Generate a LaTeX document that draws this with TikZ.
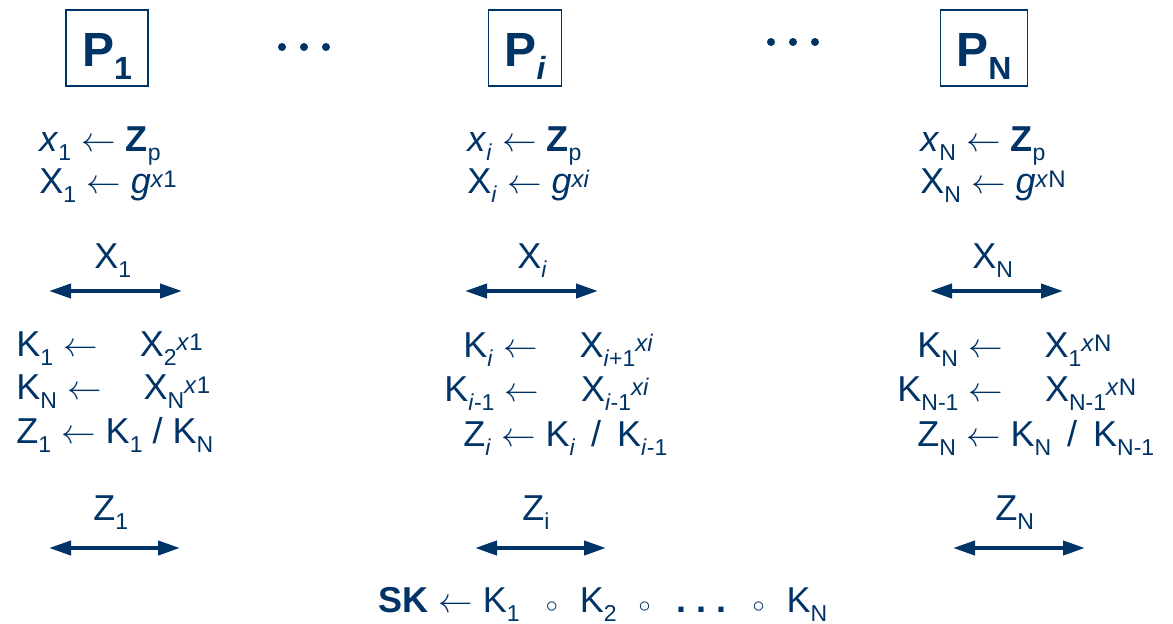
\documentclass[tikz,border=0pt]{standalone}
\usepackage{fontspec}
\setmainfont{Liberation Sans}
\usepackage{xcolor}
\usetikzlibrary{arrows.meta}
\definecolor{navy}{RGB}{0,51,102}
\newcommand{\lo}[1]{\raisebox{-4.5pt}{\fontsize{11.5}{12}\selectfont #1}}
\newcommand{\hi}[1]{\raisebox{3pt}{\fontsize{12}{12}\selectfont #1}}
\newcommand{\pidx}[1]{\raisebox{-6.5pt}{\fontsize{16}{18}\selectfont #1}}
\newcommand{\ring}{{\fontsize{12}{12}\selectfont$\circ$}}
\tikzset{
    party/.style={
        draw=navy, line width=0.8pt, anchor=base,
        text height=28pt, text depth=10pt, inner ysep=0pt, inner xsep=8pt,
        text=navy, font=\fontsize{24}{28}\selectfont\bfseries
    },
    eqn/.style={
        anchor=base west, inner sep=0pt,
        text=navy, font=\fontsize{18}{22}\selectfont
    },
    bcast/.style={
        {Triangle[length=11pt,width=7pt]}-{Triangle[length=11pt,width=7pt]},
        line width=2pt, draw=navy
    }
}
\begin{document}
\begin{tikzpicture}[x=0.5pt, y=-0.5pt]
\useasboundingbox (0,0) rectangle (1173,623);

%% Row 0 -- the parties
\node[party] (p1) at (107, 66) {P\pidx{1}};
\node[party] (pi) at (525, 66) {P\pidx{\itshape i}};
\node[party] (pn) at (984, 66) {P\pidx{N}};
\foreach \x in {282,304,326} \fill[navy] (\x,47) circle (4);
\foreach \x in {771,793,815} \fill[navy] (\x,42) circle (4);

%% Row 1 -- secret exponent and public value
\node[eqn] (a1) at (39,  151) {\textit{x}\lo{1} $\leftarrow$ \textbf{Z}\lo{p}};
\node[eqn] (b1) at (39,  193) {X\lo{1} $\leftarrow$ \textit{g}\hi{\textit{x}1}};
\node[eqn] (ai) at (467, 151) {\textit{x}\lo{\textit{i}} $\leftarrow$ \textbf{Z}\lo{p}};
\node[eqn] (bi) at (467, 193) {X\lo{\textit{i}} $\leftarrow$ \textit{g}\hi{\textit{xi}}};
\node[eqn] (an) at (920, 151) {\textit{x}\lo{N} $\leftarrow$ \textbf{Z}\lo{p}};
\node[eqn] (bn) at (920, 193) {X\lo{N} $\leftarrow$ \textit{g}\hi{\textit{x}N}};

%% Row 2 -- broadcast of X
\node[eqn] (mx1) at (94,  268) {X\lo{1}};
\node[eqn] (mxi) at (517, 268) {X\lo{\textit{i}}};
\node[eqn] (mxn) at (972, 268) {X\lo{N}};
\coordinate (x1l) at (49,  291);  \coordinate (x1r) at (182,  291);
\coordinate (xil) at (465, 291);  \coordinate (xir) at (598,  291);
\coordinate (xnl) at (930, 291);  \coordinate (xnr) at (1063, 291);
\draw[bcast] (x1l) -- (x1r);
\draw[bcast] (xil) -- (xir);
\draw[bcast] (xnl) -- (xnr);

%% Row 3 -- keys with both neighbours
\node[eqn] (k1)  at (16,  356) {K\lo{1} $\leftarrow$\hspace{21pt}X\lo{2}\hi{\textit{x}1}};
\node[eqn] (k1b) at (16,  399) {K\lo{N} $\leftarrow$\hspace{21pt}X\lo{N}\hi{\textit{x}1}};
\node[eqn] (z1)  at (16,  443) {Z\lo{1} $\leftarrow$ K\lo{1} / K\lo{N}};

\node[eqn] (ki)  at (463, 357) {K\lo{\textit{i}} $\leftarrow$\hspace{21pt}X\lo{\textit{i}+1}\hi{\textit{xi}}};
\node[eqn] (kib) at (444, 401) {K\lo{\textit{i}-1} $\leftarrow$\hspace{21pt}X\lo{\textit{i}-1}\hi{\textit{xi}}};
\node[eqn] (zi)  at (463, 446) {Z\lo{\textit{i}} $\leftarrow$ K\lo{\textit{i}}\hspace{8pt}/\hspace{8pt}K\lo{\textit{i}-1}};

\node[eqn] (kn)  at (917, 357) {K\lo{N} $\leftarrow$\hspace{21pt}X\lo{1}\hi{\textit{x}N}};
\node[eqn] (knb) at (897, 401) {K\lo{N-1} $\leftarrow$\hspace{21pt}X\lo{N-1}\hi{\textit{x}N}};
\node[eqn] (zn)  at (917, 446) {Z\lo{N} $\leftarrow$ K\lo{N}\hspace{8pt}/\hspace{8pt}K\lo{N-1}};

%% Row 4 -- broadcast of Z
\node[eqn] (mz1) at (93,  520) {Z\lo{1}};
\node[eqn] (mzi) at (522, 520) {Z\lo{i}};
\node[eqn] (mzn) at (995, 520) {Z\lo{N}};
\coordinate (z1l) at (49,  548);  \coordinate (z1r) at (180,  548);
\coordinate (zil) at (475, 548);  \coordinate (zir) at (606,  548);
\coordinate (znl) at (953, 548);  \coordinate (znr) at (1085, 548);
\draw[bcast] (z1l) -- (z1r);
\draw[bcast] (zil) -- (zir);
\draw[bcast] (znl) -- (znr);

%% Row 5 -- session key
\node[eqn] (sk) at (378, 612)
    {\textbf{SK} $\leftarrow$ K\lo{1}\hspace{13pt}\ring\hspace{11pt}K\lo{2}\hspace{11pt}\ring\hspace{13pt}\textbf{.\hspace{5pt}.\hspace{5pt}.}\hspace{13pt}\ring\hspace{11pt}K\lo{N}};

\end{tikzpicture}
\end{document}
